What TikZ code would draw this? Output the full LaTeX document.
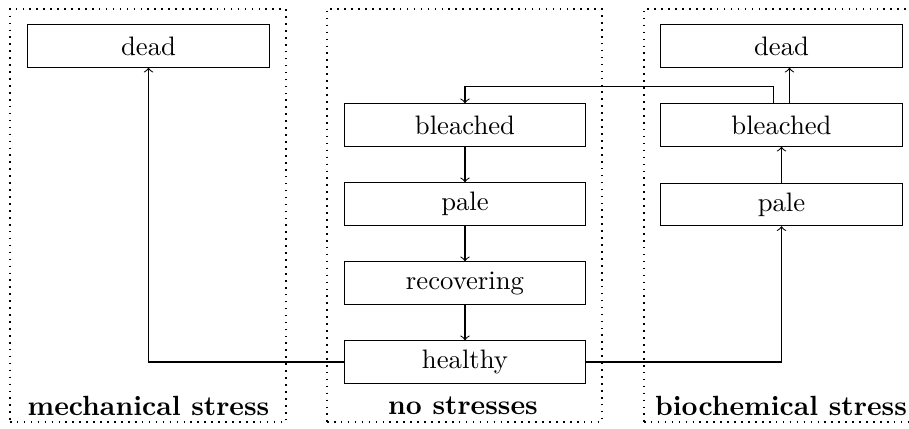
\documentclass[tikz,border=0pt]{standalone}
\usetikzlibrary{arrows}
\begin{document}
\begin{tikzpicture}[x=0.3745pt,y=-0.3745pt,
  state/.style={draw, minimum width=90.3pt, minimum height=15.8pt, inner sep=0pt, font=\normalsize},
  frame/.style={draw, semithick, dotted, inner sep=0pt},
  grouplabel/.style={font=\fontsize{10.4}{12}\selectfont\bfseries, inner sep=0pt},
  flow/.style={->}]
\useasboundingbox (0,0) rectangle (909,429);
% frames
\node[frame, minimum width=103.4pt, minimum height=154.7pt] (fm) at (148,215.5) {};
\node[frame, minimum width=103.0pt, minimum height=154.7pt] (fn) at (464.5,215.5) {};
\node[frame, minimum width=100.4pt, minimum height=154.7pt] (fb) at (778,215.5) {};
% labels
\node[grouplabel] (lm) at (148.5,405.5) {mechanical stress};
\node[grouplabel] (ln) at (463,405.5) {no stresses};
\node[grouplabel] (lb) at (781,405.5) {biochemical stress};
% states
\node[state] (mdead) at (148.5,46) {dead};
\node[state] (nbleached) at (465,125) {bleached};
\node[state] (npale) at (465,204) {pale};
\node[state] (nrecov) at (465,283) {recovering};
\node[state] (nhealthy) at (465,362) {healthy};
\node[state] (bdead) at (781.5,46) {dead};
\node[state] (bbleached) at (781.5,125) {bleached};
\node[state] (bpale) at (781.5,204.5) {pale};
% connectors
\draw[flow] (nbleached) -- (npale);
\draw[flow] (npale) -- (nrecov);
\draw[flow] (nrecov) -- (nhealthy);
\draw[flow] (nhealthy.west) -| (mdead.south);
\draw[flow] (nhealthy.east) -| (bpale.south);
\draw[flow] (bpale) -- (bbleached);
\draw[flow] ([xshift=3pt]bbleached.north) -- ([xshift=3pt]bdead.south);
\draw[flow] ([xshift=-3pt]bbleached.north) |- ++(0,-17) -| (nbleached.north);
\end{tikzpicture}
\end{document}
